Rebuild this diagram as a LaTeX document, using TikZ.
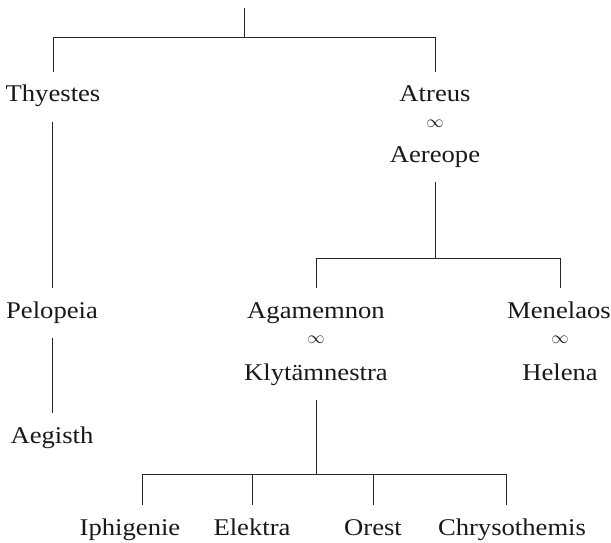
\documentclass[tikz,border=0pt]{standalone}
\usepackage{fontspec}
\setmainfont[FakeStretch=1.11]{Liberation Serif}
\begin{document}
\begin{tikzpicture}[x=1pt,y=-1pt,
  person/.style={font=\fontsize{24}{28}\selectfont, text=black!90, text height=15pt, text depth=5pt, inner xsep=2pt, inner ysep=15pt, anchor=base},
  marr/.style={font=\fontsize{18}{20}\selectfont, text=black!90, inner sep=0pt, anchor=center},
  link/.style={line width=1pt, draw=black!85}]
\useasboundingbox (0,0) rectangle (611,543);
% persons
\node[person] (thyestes) at (53,102) {Thyestes};
\node[person] (atreus) at (435,102) {Atreus};
\node[marr] (m1) at (435,124) {$\infty$};
\node[person] (aereope) at (435,162) {Aereope};
\node[person] (pelopeia) at (52,318) {Pelopeia};
\node[person] (aegisth) at (52,443) {Aegisth};
\node[person] (agamemnon) at (316,318) {Agamemnon};
\node[marr] (m2) at (316,340) {$\infty$};
\node[person] (klyt) at (316,380) {Klytämnestra};
\node[person] (menelaos) at (559,318) {Menelaos};
\node[marr] (m3) at (560,340) {$\infty$};
\node[person] (helena) at (560,380) {Helena};
\node[person] (iphigenie) at (130,535) {Iphigenie};
\node[person] (elektra) at (252,535) {Elektra};
\node[person] (orest) at (373,535) {Orest};
\node[person] (chrys) at (512,535) {Chrysothemis};
% junctions
\coordinate (root) at (244,8);
\coordinate (j1) at (244,38);
\coordinate (j2) at (435,258);
\coordinate (j3) at (316,474);
% connectors
\draw[link] (root) -- (j1);
\draw[link] (j1) -| (thyestes.north);
\draw[link] (j1) -| (atreus.north);
\draw[link] ([xshift=-1pt]thyestes.south) -- (pelopeia.north);
\draw[link] (pelopeia.south) -- (aegisth.north);
\draw[link] (aereope.south) -- (j2);
\draw[link] (j2) -| (agamemnon.north);
\draw[link] (j2) -| ([xshift=1pt]menelaos.north);
\draw[link] (klyt.south) -- (j3);
\draw[link] (j3) -| ([xshift=12pt]iphigenie.north);
\draw[link] (j3) -| (elektra.north);
\draw[link] (j3) -| (orest.north);
\draw[link] (j3) -| ([xshift=-6pt]chrys.north);
\end{tikzpicture}
\end{document}
